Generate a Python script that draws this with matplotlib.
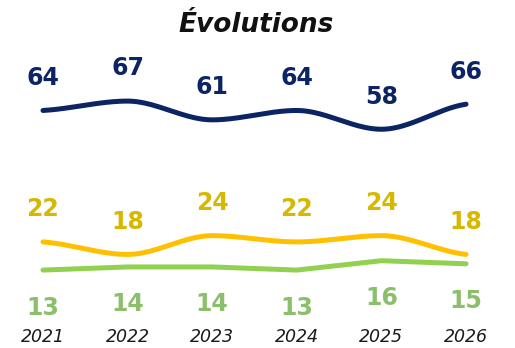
import numpy as np
import matplotlib
matplotlib.use("Agg")
import matplotlib.pyplot as plt

years = ["2021", "2022", "2023", "2024", "2025", "2026"]
navy_vals = [64, 67, 61, 64, 58, 66]
yellow_vals = [22, 18, 24, 22, 24, 18]
green_vals = [13, 14, 14, 13, 16, 15]

NAVY = "#0c2463"
YELLOW_LINE = "#ffc000"
YELLOW_TEXT = "#d6b800"
GREEN_LINE = "#92d050"
GREEN_TEXT = "#8cbf6c"

FONT = "DejaVu Sans"


def pchip(x, y, n=300):
    """Monotone cubic (Fritsch-Carlson) curve through the points."""
    x = np.asarray(x, float)
    y = np.asarray(y, float)
    h = np.diff(x)
    d = np.diff(y) / h
    m = np.zeros_like(y)
    for k in range(1, len(y) - 1):
        if d[k - 1] * d[k] > 0:
            w1 = 2 * h[k] + h[k - 1]
            w2 = h[k] + 2 * h[k - 1]
            m[k] = (w1 + w2) / (w1 / d[k - 1] + w2 / d[k])
    m[0] = d[0] * 0.5
    m[-1] = d[-1] * 0.5
    xs = np.linspace(x[0], x[-1], n)
    idx = np.clip(np.searchsorted(x, xs) - 1, 0, len(x) - 2)
    t = (xs - x[idx]) / h[idx]
    h00 = 2 * t**3 - 3 * t**2 + 1
    h10 = t**3 - 2 * t**2 + t
    h01 = -2 * t**3 + 3 * t**2
    h11 = t**3 - t**2
    ys = (h00 * y[idx] + h10 * h[idx] * m[idx]
          + h01 * y[idx + 1] + h11 * h[idx] * m[idx + 1])
    return xs, ys


fig = plt.figure(figsize=(5.15, 3.48), dpi=100)
ax = fig.add_axes([0, 0, 1, 1])
ax.set_xlim(-0.508, 5.579)
ax.set_ylim(-11.9, 99.3)
ax.axis("off")

x = np.arange(len(years))

xs, ys = pchip(x, navy_vals)
ax.plot(xs, ys, color=NAVY, lw=3.6, solid_capstyle="round")
xs, ys = pchip(x, yellow_vals)
ax.plot(xs, ys, color=YELLOW_LINE, lw=3.6, solid_capstyle="round")
ax.plot(x, green_vals, color=GREEN_LINE, lw=3.6, solid_capstyle="round",
        solid_joinstyle="round")

label_kw = dict(ha="center", va="center", fontsize=17, fontweight="bold",
                family=FONT, textcoords="offset points")
for xi, v in zip(x, navy_vals):
    ax.annotate(str(v), (xi, v), xytext=(0, 23.5), color=NAVY, **label_kw)
for xi, v in zip(x, yellow_vals):
    ax.annotate(str(v), (xi, v), xytext=(0, 23.5), color=YELLOW_TEXT, **label_kw)
for xi, v in zip(x, green_vals):
    ax.annotate(str(v), (xi, v), xytext=(0, -27), color=GREEN_TEXT, **label_kw)

for xi, yr in zip(x, years):
    ax.text(xi, 1 - 337 / 348, yr, transform=ax.get_xaxis_transform(),
            ha="center", va="center", fontsize=12.5, style="italic",
            family=FONT, color="#1a1a1a")

fig.text(0.497, 1 - 25 / 348, "Évolutions", ha="center", va="center",
         fontsize=19, fontweight="bold", style="italic", family=FONT,
         color="#111111")

fig.savefig("out.png", dpi=100)
